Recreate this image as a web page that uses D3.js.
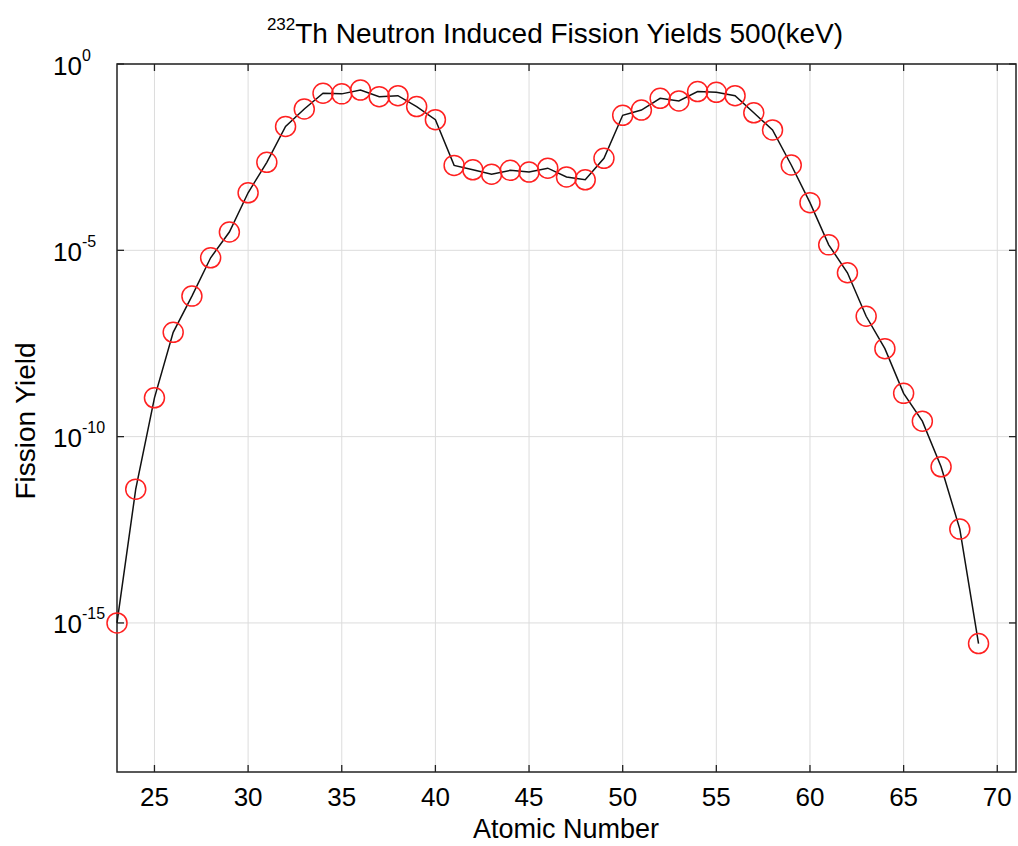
<!DOCTYPE html>
<html>
<head>
<meta charset="utf-8">
<script src="https://d3js.org/d3.v7.min.js"></script>
<style>
  body { margin: 0; background: #fff; }
  text { font-family: "Liberation Sans", Arial, sans-serif; fill: #000; }
</style>
</head>
<body>
<div id="chart"></div>
<script>
// atomic numbers and fission yields
var atomicNumbers = d3.range(23, 70);
var yields = [
  1.0e-15, 3.9e-12, 1.1e-9, 6.3e-8, 5.9e-7, 6.3e-6, 3.1e-5, 3.5e-4, 2.3e-3, 2.1e-2,
  6.2e-2, 0.164, 0.158, 0.20, 0.133, 0.141, 0.072, 0.032, 1.9e-3, 1.45e-3,
  1.1e-3, 1.4e-3, 1.26e-3, 1.6e-3, 9.3e-4, 7.8e-4, 2.95e-3, 0.042, 0.058, 0.12,
  0.102, 0.182, 0.174, 0.141, 0.049, 0.017, 1.95e-3, 1.9e-4, 1.4e-5, 2.5e-6,
  1.7e-7, 2.3e-8, 1.45e-9, 2.6e-10, 1.55e-11, 3.3e-13, 2.8e-16
];
var xTicks = [25, 30, 35, 40, 45, 50, 55, 60, 65, 70];
var yTickExps = [0, -5, -10, -15];

var W = 1018, H = 846;
var m = {left: 117, top: 64, right: 2, bottom: 74};

var svg = d3.select("#chart").append("svg")
    .attr("width", W).attr("height", H);

var x = d3.scaleLinear().domain([23, 71]).range([m.left, W - m.right]);
var y = d3.scaleLog().domain([1e-19, 1]).range([H - m.bottom, m.top]);

// grid
svg.append("g").selectAll("line").data(xTicks).enter().append("line")
    .attr("x1", d => x(d)).attr("x2", d => x(d))
    .attr("y1", m.top).attr("y2", H - m.bottom)
    .attr("stroke", "#dcdcdc").attr("stroke-width", 1);
svg.append("g").selectAll("line").data(yTickExps).enter().append("line")
    .attr("x1", m.left).attr("x2", W - m.right)
    .attr("y1", d => y(Math.pow(10, d))).attr("y2", d => y(Math.pow(10, d)))
    .attr("stroke", "#dcdcdc").attr("stroke-width", 1);

// inside ticks on all four sides
var tk = 7;
var ticks = svg.append("g").attr("stroke", "#222").attr("stroke-width", 1.3);
xTicks.forEach(function (d) {
  ticks.append("line").attr("x1", x(d)).attr("x2", x(d)).attr("y1", H - m.bottom).attr("y2", H - m.bottom - tk);
  ticks.append("line").attr("x1", x(d)).attr("x2", x(d)).attr("y1", m.top).attr("y2", m.top + tk);
});
yTickExps.forEach(function (d) {
  var yy = y(Math.pow(10, d));
  ticks.append("line").attr("x1", m.left).attr("x2", m.left + tk).attr("y1", yy).attr("y2", yy);
  ticks.append("line").attr("x1", W - m.right).attr("x2", W - m.right - tk).attr("y1", yy).attr("y2", yy);
});

// frame
svg.append("rect")
    .attr("x", m.left).attr("y", m.top)
    .attr("width", W - m.right - m.left).attr("height", H - m.bottom - m.top)
    .attr("fill", "none").attr("stroke", "#222").attr("stroke-width", 1.5);

var pts = atomicNumbers.map((z, i) => ({z: z, v: yields[i]}));

// line
svg.append("path")
    .datum(pts)
    .attr("fill", "none").attr("stroke", "#111").attr("stroke-width", 1.5)
    .attr("d", d3.line().x(d => x(d.z)).y(d => y(d.v)));

// markers
svg.append("g").selectAll("circle").data(pts).enter().append("circle")
    .attr("cx", d => x(d.z)).attr("cy", d => y(d.v)).attr("r", 10)
    .attr("fill", "none").attr("stroke", "#ff2020").attr("stroke-width", 1.5);

// x tick labels
svg.append("g").selectAll("text").data(xTicks).enter().append("text")
    .attr("x", d => x(d)).attr("y", 806)
    .attr("text-anchor", "middle").style("font-size", "26px")
    .text(d => d);

// y tick labels 10^n
yTickExps.forEach(function (d) {
  var t = svg.append("text")
      .attr("x", 53).attr("y", y(Math.pow(10, d)) + 10.5)
      .style("font-size", "26px");
  t.append("tspan").text("10");
  t.append("tspan").attr("dy", -14).style("font-size", "16px").text(d);
});

// axis titles
svg.append("text")
    .attr("x", 566).attr("y", 838)
    .attr("text-anchor", "middle").style("font-size", "27px")
    .text("Atomic Number");

svg.append("text")
    .attr("transform", "translate(35,421) rotate(-90)")
    .attr("text-anchor", "middle").style("font-size", "28px")
    .text("Fission Yield");

// title
var title = svg.append("text")
    .attr("x", 555).attr("y", 43)
    .attr("text-anchor", "middle").style("font-size", "28px");
title.append("tspan").attr("dy", -13).style("font-size", "17px").text("232");
title.append("tspan").attr("dy", 13).text("Th Neutron Induced Fission Yields 500(keV)");
</script>
</body>
</html>
